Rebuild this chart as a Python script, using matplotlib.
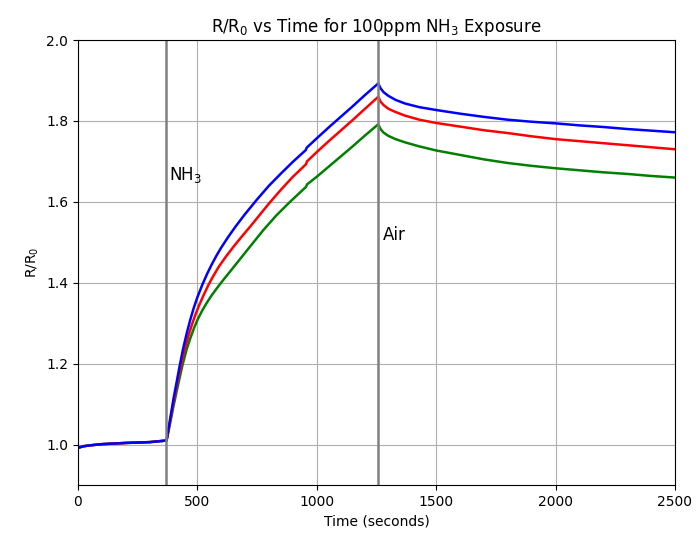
import matplotlib
matplotlib.use("Agg")
import matplotlib.pyplot as plt

# Baseline (shared by all three sensors before exposure)
base_t = [0, 25, 50, 100, 200, 300]
base_y = [0.992, 0.996, 0.998, 1.001, 1.004, 1.006]

blue_t = base_t + [371, 385, 400, 415, 427, 440, 455, 470, 485, 500, 520, 540, 560, 580,
                   600, 630, 660, 700, 750, 800, 850, 900, 954, 958, 1000, 1050, 1100,
                   1150, 1200, 1258, 1262, 1268, 1280, 1300, 1330, 1370, 1430, 1500, 1600,
                   1700, 1800, 1900, 2000, 2100, 2200, 2300, 2400, 2500]
blue_y = base_y + [1.010, 1.060, 1.113, 1.160, 1.198, 1.236, 1.274, 1.308, 1.338, 1.364,
                   1.394, 1.421, 1.445, 1.467, 1.487, 1.514, 1.539, 1.570, 1.606, 1.640,
                   1.670, 1.699, 1.728, 1.734, 1.757, 1.784, 1.810, 1.836, 1.863, 1.893,
                   1.887, 1.880, 1.871, 1.862, 1.852, 1.843, 1.834, 1.827, 1.818, 1.810,
                   1.803, 1.798, 1.794, 1.789, 1.785, 1.780, 1.776, 1.772]

red_t = base_t + [371, 385, 400, 415, 433, 448, 463, 478, 493, 508, 525, 545, 565, 590,
                  620, 650, 680, 720, 760, 800, 850, 900, 955, 959, 1000, 1050, 1100, 1150,
                  1200, 1258, 1262, 1268, 1280, 1300, 1330, 1370, 1430, 1500, 1600, 1700,
                  1800, 1900, 2000, 2100, 2200, 2300, 2400, 2500]
red_y = base_y + [1.010, 1.055, 1.103, 1.150, 1.200, 1.238, 1.270, 1.298, 1.323, 1.345,
                  1.368, 1.393, 1.415, 1.440, 1.465, 1.488, 1.510, 1.538, 1.567, 1.596,
                  1.630, 1.662, 1.693, 1.700, 1.723, 1.750, 1.776, 1.802, 1.829, 1.860,
                  1.854, 1.847, 1.839, 1.830, 1.822, 1.813, 1.803, 1.795, 1.786, 1.777,
                  1.770, 1.762, 1.755, 1.750, 1.745, 1.740, 1.735, 1.730]

green_t = base_t + [371, 385, 400, 420, 438, 455, 470, 486, 501, 520, 540, 560, 585, 610,
                    636, 678, 720, 776, 830, 888, 955, 959, 1000, 1050, 1100, 1150, 1200,
                    1258, 1262, 1268, 1280, 1300, 1330, 1370, 1430, 1500, 1600, 1700, 1800,
                    1900, 2000, 2100, 2200, 2300, 2400, 2500]
green_y = base_y + [1.010, 1.050, 1.095, 1.150, 1.197, 1.235, 1.262, 1.288, 1.309, 1.331,
                    1.351, 1.369, 1.389, 1.408, 1.427, 1.458, 1.489, 1.530, 1.566, 1.600,
                    1.637, 1.643, 1.662, 1.687, 1.712, 1.737, 1.763, 1.792, 1.786, 1.779,
                    1.771, 1.763, 1.755, 1.747, 1.737, 1.727, 1.716, 1.705, 1.696, 1.689,
                    1.683, 1.678, 1.673, 1.669, 1.664, 1.660]

nh3_on = 370
air_on = 1258

fig = plt.figure(figsize=(6.98, 5.41), dpi=100)
ax = fig.add_axes([0.1117, 0.1035, 0.8553, 0.8225])

ax.plot(green_t, green_y, color="green", lw=1.8)
ax.plot(red_t, red_y, color="red", lw=1.8)
ax.plot(blue_t, blue_y, color="blue", lw=1.8)

ax.axvline(nh3_on, color="gray", lw=1.8)
ax.axvline(air_on, color="gray", lw=1.8)

ax.text(nh3_on + 11, 1.666, "NH$_3$", fontsize=12, va="center", ha="left")
ax.text(air_on + 19, 1.518, "Air", fontsize=12, va="center", ha="left")

ax.set_xlim(0, 2500)
ax.set_ylim(0.9, 2.0)
ax.set_xticks([0, 500, 1000, 1500, 2000, 2500])
ax.set_yticks([1.0, 1.2, 1.4, 1.6, 1.8, 2.0])
ax.grid(True)
ax.set_xlabel("Time (seconds)")
ax.set_ylabel("R/R$_0$")
ax.set_title("R/R$_0$ vs Time for 100ppm NH$_3$ Exposure")

fig.savefig("out.png", dpi=100)
